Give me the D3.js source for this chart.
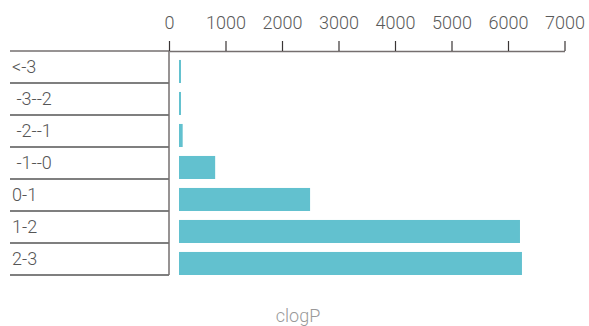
<!DOCTYPE html>
<html>
<head>
<meta charset="utf-8">
<script src="https://cdn.jsdelivr.net/npm/d3@7"></script>
<style>
	body { margin: 0; background: #fff; }
	text { font-family: Roboto, "Noto Sans", sans-serif; font-weight: 300; }
</style>
</head>
<body>
<script>
// categories and counts
var categories = ["<-3", " -3--2", " -2--1", " -1--0", "0-1", "1-2", "2-3"];
var counts = [35, 35, 65, 640, 2320, 6035, 6070];
var tickValues = [0, 1000, 2000, 3000, 4000, 5000, 6000, 7000];
var axisTitle = "clogP";

var data = categories.map(function(c, i) {
	return {label: c, value: counts[i]};
});

var width = 589, height = 326;
var plotLeft = 169, plotRight = 564.5, plotTop = 51, plotBottom = 275;

var svg = d3.select("body").append("svg")
	.attr("width", width)
	.attr("height", height);

var x = d3.scaleLinear().domain([0, 7000]).range([plotLeft, plotRight]);
var y = d3.scaleBand().domain(categories).range([plotTop, plotBottom]).paddingInner(0);
var bw = y.bandwidth();

//---- top axis
var axis = svg.append("g")
	.attr("transform", "translate(0," + plotTop + ")")
	.call(d3.axisTop(x).tickValues(tickValues).tickSize(10).tickSizeOuter(0).tickPadding(12).tickFormat(d3.format("d")));
axis.select(".domain").attr("stroke", "#756f6f").attr("stroke-width", 1.3);
axis.selectAll(".tick line").attr("stroke", "#3a3535").attr("stroke-width", 1.2);
axis.selectAll(".tick text")
	.attr("fill", "#5a5a5a")
	.style("font-size", "18px")
	.style("font-family", "Roboto, sans-serif")
	.style("font-weight", 300);

//---- row separators on the left
var bounds = categories.map(function(c) { return y(c); }).concat([plotBottom]);
svg.selectAll("line.row")
	.data(bounds)
	.join("line")
	.attr("class", "row")
	.attr("x1", 10).attr("x2", plotLeft)
	.attr("y1", d => d).attr("y2", d => d)
	.attr("stroke", (d, i) => i == 0 ? "#756f6f" : "#555")
	.attr("stroke-width", 1.3);

svg.append("line")
	.attr("x1", plotLeft).attr("x2", plotLeft)
	.attr("y1", plotTop).attr("y2", plotBottom)
	.attr("stroke", "#756f6f")
	.attr("stroke-width", 1.5);

//---- row labels
svg.selectAll("text.lab")
	.data(data)
	.join("text")
	.attr("class", "lab")
	.attr("x", 12)
	.attr("y", d => y(d.label) + bw / 2)
	.attr("dy", "0.35em")
	.attr("xml:space", "preserve")
	.style("white-space", "pre")
	.attr("fill", "#555")
	.style("font-size", "18px")
	.text(d => d.label);

//---- bars
svg.selectAll("rect.bar")
	.data(data)
	.join("rect")
	.attr("class", "bar")
	.attr("x", x(0) + 10)
	.attr("y", d => y(d.label) + bw * 0.28)
	.attr("width", d => x(d.value) - x(0))
	.attr("height", bw * 0.72)
	.attr("fill", "#62c1cf");

//---- axis title
svg.append("text")
	.attr("x", 298)
	.attr("y", 322)
	.attr("text-anchor", "middle")
	.attr("fill", "#999")
	.style("font-size", "18px")
	.text(axisTitle);
</script>
</body>
</html>
